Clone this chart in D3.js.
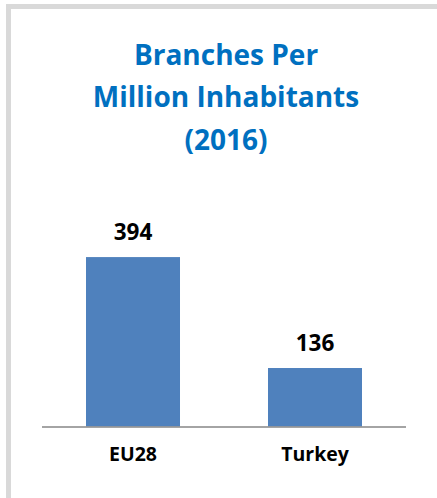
<!DOCTYPE html>
<html>
<head>
<meta charset="utf-8">
<script src="https://cdn.jsdelivr.net/npm/d3@7"></script>
<style>
  body { margin: 0; background: #fff; }
  svg { display: block; font-family: "Open Sans", Lato, sans-serif; }
</style>
</head>
<body>
<svg id="chart" width="437" height="498"></svg>
<script>
// chart data
var categories = ["EU28", "Turkey"];
var values = [394, 136];
var titleLines = ["Branches Per", "Million Inhabitants", "(2016)"];

var svg = d3.select("#chart");

// grey frame (top and left only)
svg.append("rect").attr("x", 6).attr("y", 4).attr("width", 431).attr("height", 5).attr("fill", "#d9d9d9");
svg.append("rect").attr("x", 6).attr("y", 4).attr("width", 5).attr("height", 494).attr("fill", "#d9d9d9");

// title
svg.append("g")
	.selectAll("text")
	.data(titleLines)
	.enter().append("text")
	.attr("x", 226)
	.attr("y", function(d, i) { return 65 + i * 42.3; })
	.attr("text-anchor", "middle")
	.attr("font-size", 28)
	.attr("font-weight", "bold")
	.attr("fill", "#0070c0")
	.text(function(d) { return d; });

var x = d3.scaleBand()
	.domain(categories)
	.range([42, 406])
	.paddingInner(0.4835)
	.paddingOuter(0.2418);

var y = d3.scaleLinear()
	.domain([0, 450])
	.range([426.5, 233]);

var data = categories.map(function(c, i) { return { cat: c, value: values[i] }; });

svg.append("g")
	.selectAll("rect")
	.data(data)
	.enter().append("rect")
	.attr("x", function(d) { return x(d.cat); })
	.attr("y", function(d) { return y(d.value); })
	.attr("width", x.bandwidth())
	.attr("height", function(d) { return y(0) - y(d.value); })
	.attr("fill", "#4f81bd");

// value labels
svg.append("g")
	.selectAll("text")
	.data(data)
	.enter().append("text")
	.attr("x", function(d) { return x(d.cat) + x.bandwidth() / 2; })
	.attr("y", function(d) { return y(d.value) - 17.5; })
	.attr("text-anchor", "middle")
	.attr("font-size", 22.5)
	.attr("font-weight", "bold")
	.attr("fill", "#000")
	.text(function(d) { return d.value; });

// x axis
var xAxis = svg.append("g")
	.attr("transform", "translate(0," + y(0) + ")")
	.call(d3.axisBottom(x).tickSize(0).tickPadding(0));

xAxis.select(".domain")
	.attr("d", "M42,0.5H406")
	.attr("stroke", "#868686")
	.attr("stroke-width", 1.5);

xAxis.selectAll("text")
	.attr("dy", null)
	.attr("y", 34.5)
	.attr("font-family", "'Open Sans', Lato, sans-serif")
	.attr("font-size", 19.5)
	.attr("font-weight", "bold")
	.attr("fill", "#000");
</script>
</body>
</html>
